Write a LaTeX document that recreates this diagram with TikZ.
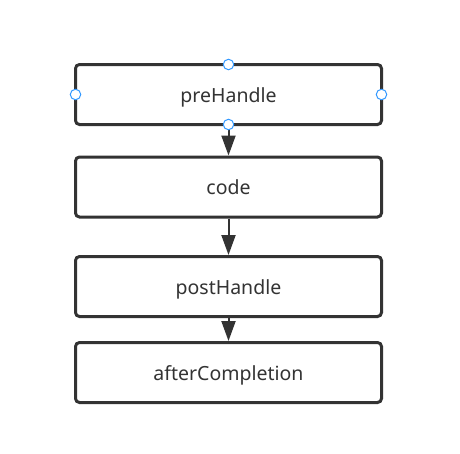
\documentclass[tikz,border=0pt]{standalone}
\usepackage{fontspec}
\setmainfont{Noto Sans}
\usetikzlibrary{arrows.meta}
\definecolor{ink}{HTML}{333333}
\definecolor{handle}{HTML}{3399FF}
\tikzset{
  stepbox/.style={draw=ink, line width=3pt, rounded corners=4pt, fill=white,
    minimum width=306pt, minimum height=60pt, inner sep=0pt, outer sep=0pt,
    text height=17pt, text depth=1.4pt,
    text=ink, font=\fontsize{19.5}{23}\selectfont},
  flow/.style={draw=ink, line width=2pt, -{Triangle[length=20pt,width=14pt]}},
  grip/.style={circle, draw=handle, fill=white, line width=1pt, minimum size=10.5pt, inner sep=0pt}
}
\begin{document}
\begin{tikzpicture}[x=1pt,y=-1pt]
\useasboundingbox (0,0) rectangle (460,453);
\node[stepbox] (pre) at (228.5,94.5) {preHandle};
\node[stepbox] (code) at (228.5,187) {code};
\node[stepbox] (post) at (228.5,286.5) {postHandle};
\node[stepbox] (after) at (228.5,372.5) {afterCompletion};
\draw[flow] ([yshift=-1.5pt]pre.south) -- ([yshift=1.5pt]code.north);
\draw[flow] ([yshift=-1.5pt]code.south) -- ([yshift=1.5pt]post.north);
\draw[flow] ([yshift=-1.5pt]post.south) -- ([yshift=1.5pt]after.north);
\node[grip] (g1) at (pre.north) {};
\node[grip] (g2) at (pre.south) {};
\node[grip] (g3) at (pre.west) {};
\node[grip] (g4) at (pre.east) {};
\end{tikzpicture}
\end{document}
